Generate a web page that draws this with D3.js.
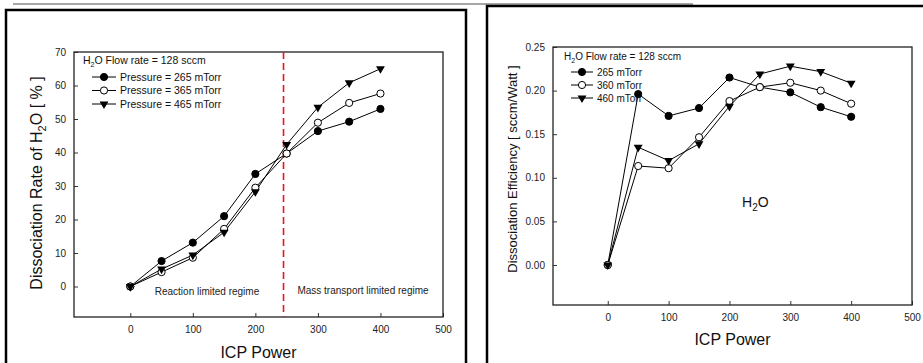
<!DOCTYPE html>
<html><head><meta charset="utf-8">
<script src="https://cdn.jsdelivr.net/npm/d3@7/dist/d3.min.js"></script>
<style>body{margin:0;background:#fff}svg{display:block;font-family:"Liberation Sans",Arial,sans-serif}</style>
</head><body><svg id="c" width="923" height="363"></svg>
<script>
const power = [0, 50, 100, 150, 200, 250, 300, 350, 400];
const rate265 = [0, 7.6, 13.1, 21.0, 33.6, 39.7, 46.4, 49.2, 53.0];
const rate365 = [0, 4.3, 8.6, 17.2, 29.5, 39.7, 48.9, 54.8, 57.6];
const rate465 = [0, 5.2, 9.4, 16.2, 28.3, 42.4, 53.5, 60.8, 65.0];
const eff265 = [0, 0.196, 0.171, 0.180, 0.215, 0.204, 0.198, 0.181, 0.170];
const eff360 = [0, 0.1135, 0.111, 0.1465, 0.188, 0.204, 0.209, 0.200, 0.185];
const eff460 = [0, 0.135, 0.1197, 0.139, 0.182, 0.219, 0.228, 0.2217, 0.2085];
const xTicks = [0, 100, 200, 300, 400, 500];
const rateTicks = [0, 10, 20, 30, 40, 50, 60, 70];
const effTicks = [0, 0.05, 0.10, 0.15, 0.20, 0.25];
const rateLegend = ["Pressure = 265 mTorr", "Pressure = 365 mTorr", "Pressure = 465 mTorr"];
const effLegend = ["265 mTorr", "360 mTorr", "460 mTorr"];
const regimeBoundary = 245;

const svg = d3.select("#c");
// decorative frames
svg.append("line").attr("x1",13).attr("x2",693).attr("y1",4).attr("y2",4).attr("stroke","#888").attr("stroke-width",1.5);
svg.append("rect").attr("x",6).attr("y",10).attr("width",460).attr("height",370).attr("fill","none").attr("stroke","#000").attr("stroke-width",2.5);
svg.append("rect").attr("x",487).attr("y",6).attr("width",460).attr("height",370).attr("fill","none").attr("stroke","#000").attr("stroke-width",2.5);

const kinds = ["filled","open","tri"];

function marker(g, kind, x, y){
  if(kind==="tri"){
    g.append("path").attr("d", d3.symbol().type(d3.symbolTriangle).size(34)())
      .attr("transform",`translate(${x},${y}) rotate(180)`).attr("fill","#000");
  } else {
    g.append("circle").attr("cx",x).attr("cy",y).attr("r",3.6)
      .attr("fill", kind==="filled"?"#000":"#fff").attr("stroke","#000").attr("stroke-width",1);
  }
}

function panel(o){
  const g = svg.append("g");
  const x = d3.scaleLinear().domain([-90,500]).range([o.l,o.r]);
  const y = d3.scaleLinear().domain(o.ydom).range([o.b,o.t]);
  const ax = g.append("g").attr("transform",`translate(0,${o.b})`)
    .call(d3.axisBottom(x).tickValues(xTicks).tickSizeInner(-4).tickSizeOuter(0).tickPadding(9).tickFormat(d3.format("d")));
  const ay = g.append("g").attr("transform",`translate(${o.l},0)`)
    .call(d3.axisLeft(y).tickValues(o.yticks).tickSizeInner(-4).tickSizeOuter(0).tickPadding(8).tickFormat(o.yfmt));
  [ax,ay].forEach(a=>{a.select(".domain").remove();a.selectAll("text").attr("font-size",10).attr("fill","#222").attr("font-family","Liberation Sans, Arial");a.selectAll("line").attr("stroke","#333");});
  g.append("rect").attr("x",o.l).attr("y",o.t).attr("width",o.r-o.l).attr("height",o.b-o.t).attr("fill","none").attr("stroke","#222").attr("stroke-width",1.3);
  if(o.extra) o.extra(g,x,y);
  const line = d3.line().x((d,i)=>x(power[i])).y(d=>y(d));
  o.series.forEach((s,k)=>{
    g.append("path").datum(s).attr("d",line).attr("fill","none").attr("stroke","#000").attr("stroke-width",1);
  });
  o.series.forEach((s,k)=>{
    s.forEach((v,i)=>marker(g,kinds[k],x(power[i]),y(v)));
  });
  // legend
  const t = g.append("text").attr("x",o.lx).attr("y",o.ly).attr("font-size",o.lfs).attr("fill","#111");
  t.append("tspan").text("H");
  t.append("tspan").text("2").attr("font-size",7).attr("dy",3);
  t.append("tspan").text("O Flow rate = 128 sccm").attr("dy",-3);
  o.legend.forEach((lab,k)=>{
    const yy = o.ly + o.lg0 + k*o.lgs;
    g.append("line").attr("x1",o.lx+o.l1).attr("x2",o.lx+o.l2).attr("y1",yy).attr("y2",yy).attr("stroke","#000");
    marker(g,kinds[k],o.lx+(o.l1+o.l2)/2,yy);
    g.append("text").attr("x",o.lx+o.l2+4).attr("y",yy+3.5).attr("font-size",o.lfs).attr("fill","#111").text(lab);
  });
  // axis titles
  g.append("text").attr("x",(o.l+o.r)/2).attr("y",o.xty).attr("text-anchor","middle").attr("font-size",16).attr("fill","#111").text("ICP Power");
  const yt = g.append("text").attr("transform",`translate(${o.ytx},${o.ytc}) rotate(-90)`).attr("text-anchor","middle").attr("font-size",o.ytfs).attr("fill","#111");
  o.ytitle(yt);
}

panel({
  l:74, r:443, t:52, b:317, ydom:[-9.1,70], yticks:rateTicks, yfmt:d3.format("d"),
  series:[rate265,rate365,rate465], legend:rateLegend,
  lx:83, ly:64, lg0:13, lgs:13.5, l1:9, l2:33, lfs:10.5,
  xty:358, ytx:42, ytc:183, ytfs:16,
  ytitle:t=>{t.append("tspan").text("Dissociation Rate of H");t.append("tspan").text("2").attr("font-size",11).attr("dy",4);t.append("tspan").text("O [ % ]").attr("dy",-4);},
  extra:(g,x,y)=>{
    g.append("line").attr("x1",x(regimeBoundary)).attr("x2",x(regimeBoundary)).attr("y1",52).attr("y2",317)
      .attr("stroke","#e8141c").attr("stroke-width",1.6).attr("stroke-dasharray","7,4");
    g.append("text").attr("x",207).attr("y",295).attr("text-anchor","middle").attr("font-size",10).attr("fill","#222").text("Reaction limited regime");
    g.append("text").attr("x",363).attr("y",294).attr("text-anchor","middle").attr("font-size",10).attr("fill","#222").text("Mass transport limited regime");
  }
});

panel({
  l:553, r:912, t:47, b:305, ydom:[-0.0459,0.25], yticks:effTicks, yfmt:d3.format(".2f"),
  series:[eff265,eff360,eff460], legend:effLegend,
  lx:564, ly:60, lg0:12, lgs:13, l1:7, l2:29, lfs:10,
  xty:345, ytx:517, ytc:169, ytfs:13,
  ytitle:t=>{t.text("Dissociation Efficiency [ sccm/Watt ]");},
  extra:(g,x,y)=>{
    const h = g.append("text").attr("x",742).attr("y",207).attr("font-size",14).attr("fill","#111");
    h.append("tspan").text("H");h.append("tspan").text("2").attr("font-size",10).attr("dy",4);h.append("tspan").text("O").attr("dy",-4);
  }
});
</script></body></html>
